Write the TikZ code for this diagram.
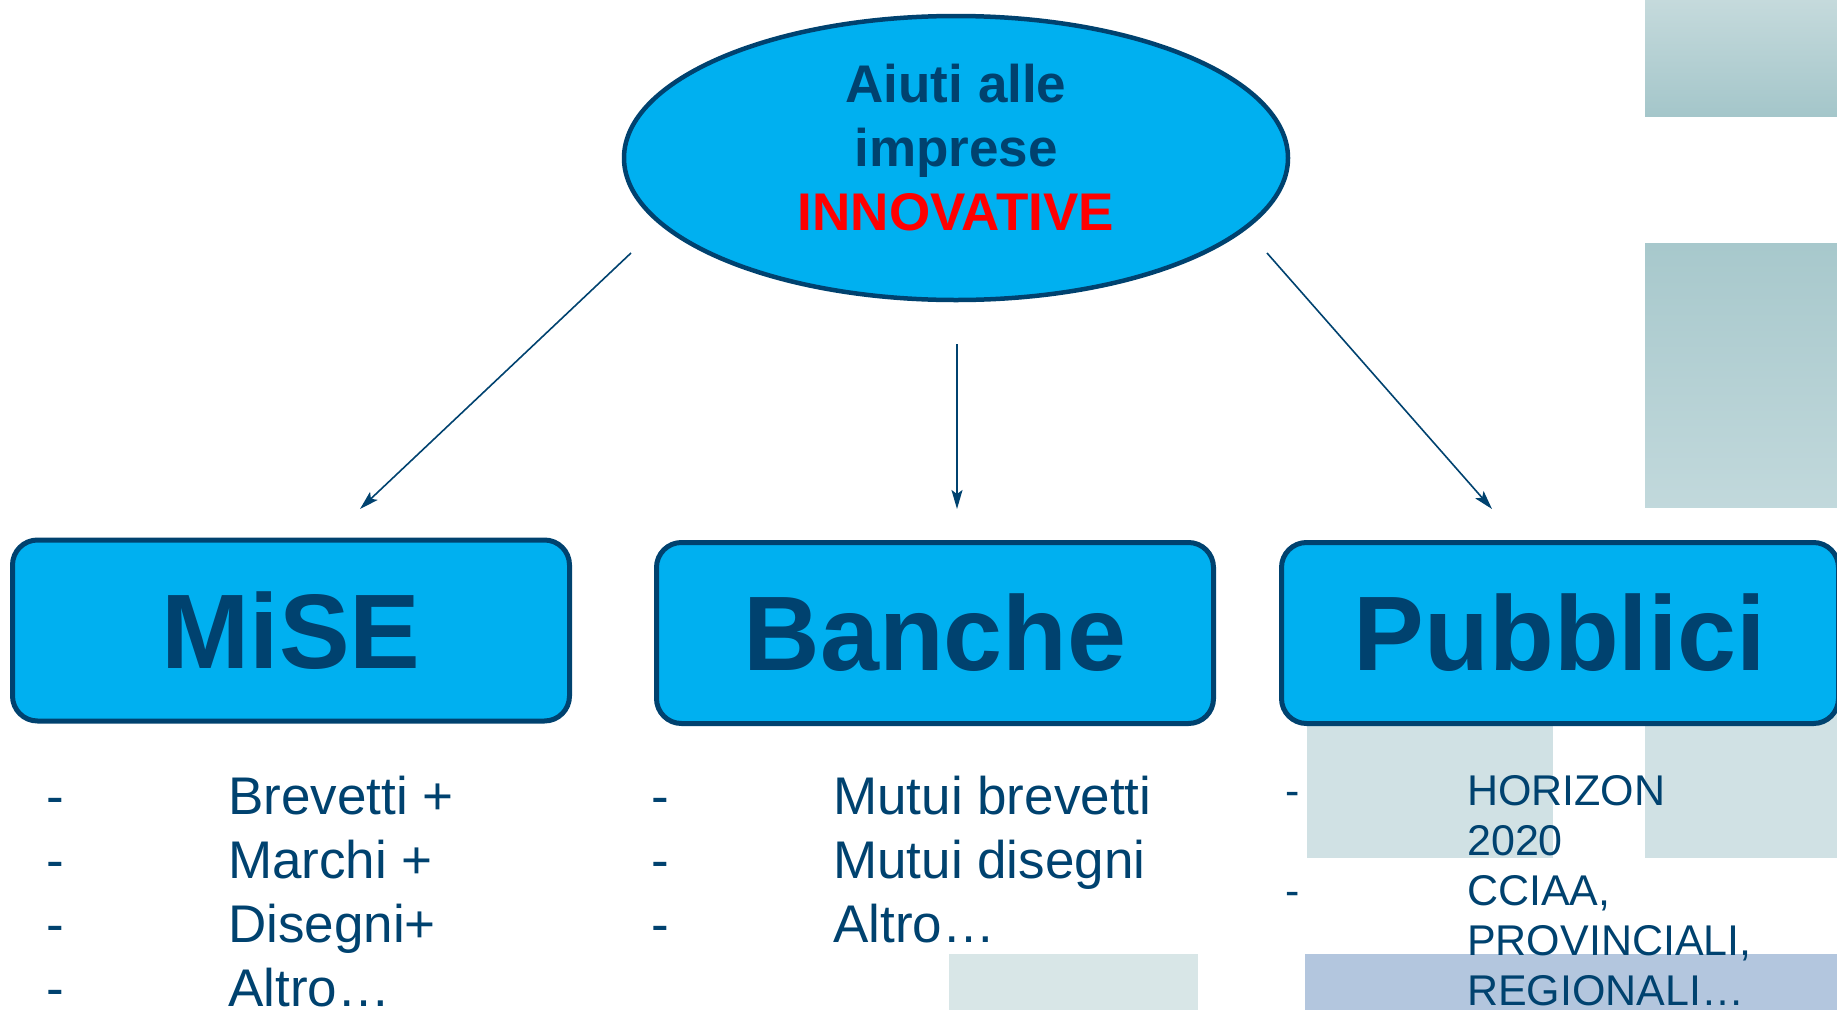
\documentclass[tikz,border=0pt]{standalone}
\usepackage{fontspec}
\setmainfont{Liberation Sans}
\usetikzlibrary{shapes.geometric,arrows.meta}

\definecolor{skyfill}{HTML}{00B0F0}
\definecolor{inkblue}{HTML}{00426F}
\definecolor{hotred}{HTML}{FF0000}
\definecolor{tealtop}{HTML}{C5DADC}
\definecolor{tealbot}{HTML}{A4C6CA}
\definecolor{tealmid}{HTML}{B2CFD3}
\definecolor{tealpale}{HTML}{D0E1E4}
\definecolor{greypale}{HTML}{D8E6E7}
\definecolor{lilacband}{HTML}{B3C6DE}

\tikzset{
  bubble/.style={ellipse,draw=inkblue,line width=4.5pt,fill=skyfill,
    minimum width=664pt,minimum height=284pt,inner sep=0pt,align=center,
    text=inkblue,font=\bfseries\fontsize{53}{64}\selectfont},
  group/.style={rectangle,rounded corners=25pt,draw=inkblue,line width=5pt,
    fill=skyfill,minimum width=557pt,minimum height=181pt,inner sep=0pt,
    text=inkblue,font=\bfseries\fontsize{106}{120}\selectfont},
  item/.style={anchor=base west,inner sep=0pt,text=inkblue,
    font=\fontsize{53}{64}\selectfont},
  smallitem/.style={item,font=\fontsize{43}{50}\selectfont},
  link/.style={-{Stealth[length=19pt,width=11pt,inset=4pt]},
    line width=1.6pt,draw=inkblue},
}

\begin{document}
\begin{tikzpicture}[x=1pt,y=-1pt]
    \useasboundingbox (0,0) rectangle (1837,1010);

    % Background squares
    \shade[top color=tealtop,bottom color=tealbot] (1645,0) rectangle (1837,116);
    \shade[top color=tealbot!90!tealtop,bottom color=tealmid!80!white] (1645,243) rectangle (1837,507);
    \fill[tealpale] (1307,700) rectangle (1553,858);
    \fill[tealpale] (1645,700) rectangle (1837,858);
    \fill[lilacband] (1305,954) rectangle (1837,1010);
    \fill[greypale] (949,954) rectangle (1198,1010);

    % Top
    \node[bubble] (aiuti) at (956,158)
      {Aiuti alle\\imprese\\\textcolor{hotred}{INNOVATIVE}\rule[-21pt]{0pt}{21pt}};

    % Boxes
    \node[group] (mise) at (291,630.5) {MiSE};
    \node[group] (banche) at (935,633) {Banche};
    \node[group] (pubblici) at (1560,633) {Pubblici};

    % Arrows
    \coordinate (mise top) at (360,509);
    \coordinate (banche top) at (957,509);
    \coordinate (pubblici top) at (1492,509);
    \coordinate (aiuti left) at (631,253);
    \coordinate (aiuti mid) at (957,344);
    \coordinate (aiuti right) at (1267,253);
    \draw[link] (aiuti left) -- (mise top);
    \draw[link] (aiuti mid) -- (banche top);
    \draw[link] (aiuti right) -- (pubblici top);

    % Lists
    \foreach \txt [count=\i] in {Brevetti +, Marchi +, Disegni+, Altro…} {
      \node[item] (misedash\i) at (46,750+64*\i) {-};
      \node[item] (mise\i) at (228,750+64*\i) {\txt};
    }
    \foreach \txt [count=\i] in {Mutui brevetti, Mutui disegni, Altro…} {
      \node[item] (banchedash\i) at (651,750+64*\i) {-};
      \node[item] (banche\i) at (833,750+64*\i) {\txt};
    }
    \foreach \txt [count=\i] in {HORIZON, 2020, {CCIAA,}, {PROVINCIALI,}, REGIONALI…} {
      \node[smallitem] (pubblici\i) at (1467,755+50*\i) {\txt};
    }
    \node[smallitem] (pubblicidash1) at (1285,805) {-};
    \node[smallitem] (pubblicidash2) at (1285,905) {-};

\end{tikzpicture}
\end{document}
